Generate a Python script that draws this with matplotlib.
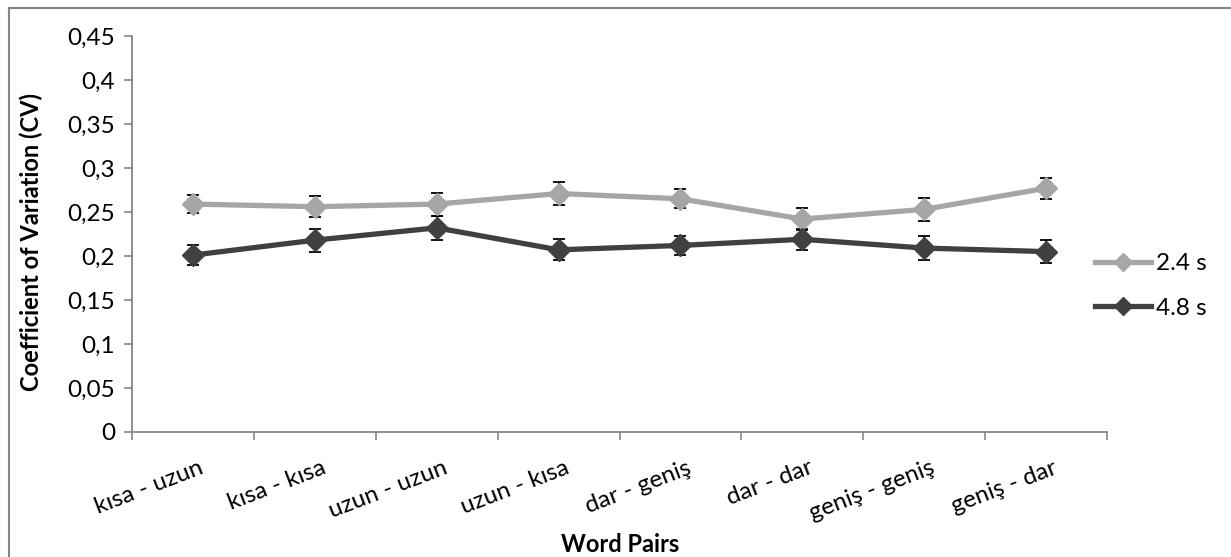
import matplotlib
matplotlib.use("Agg")
import matplotlib.pyplot as plt
from matplotlib.lines import Line2D
import matplotlib.transforms as mtransforms
import numpy as np

plt.rcParams['font.family'] = ['Lato', 'DejaVu Sans']

categories = ["kısa - uzun", "kısa - kısa", "uzun - uzun", "uzun - kısa",
              "dar - geniş", "dar - dar", "geniş - geniş", "geniş - dar"]
cv_24 = [0.259, 0.256, 0.259, 0.271, 0.265, 0.242, 0.253, 0.277]
err_24 = [0.010, 0.012, 0.013, 0.013, 0.011, 0.013, 0.013, 0.012]
cv_48 = [0.201, 0.218, 0.232, 0.207, 0.212, 0.219, 0.209, 0.205]
err_48 = [0.011, 0.013, 0.014, 0.012, 0.011, 0.012, 0.014, 0.013]
series_labels = ["2.4 s", "4.8 s"]
yticks = [0, 0.05, 0.1, 0.15, 0.2, 0.25, 0.3, 0.35, 0.4, 0.45]
ytick_labels = ["0", "0,05", "0,1", "0,15", "0,2", "0,25", "0,3", "0,35", "0,4", "0,45"]

W, H = 1231, 557
fig = plt.figure(figsize=(W / 100, H / 100), dpi=100)
L, R, T, B = 132, 1107, 36, 432
ax = fig.add_axes([L / W, 1 - B / H, (R - L) / W, (B - T) / H])

light = "#A6A6A6"
dark = "#404040"
gray = "#868686"
x = np.arange(len(categories))
FS = 17.5

for vals, errs, col in [(cv_24, err_24, light), (cv_48, err_48, dark)]:
    ax.errorbar(x, vals, yerr=errs, fmt='none', ecolor='black', elinewidth=1.3,
                capsize=4, capthick=1.3, zorder=2)
    ax.plot(x, vals, color=col, lw=3.8, marker='D', markersize=11,
            markerfacecolor=col, markeredgecolor=col, zorder=3)

ax.set_xlim(-0.5, len(categories) - 0.5)
ax.set_ylim(0, 0.45)
ax.set_yticks(yticks)
ax.set_yticklabels(ytick_labels, fontsize=FS, color='black')
ax.set_xticks(x)
ax.set_xticklabels(categories, fontsize=FS, rotation=21, ha='right', va='top',
                   rotation_mode='anchor')
ax.set_xticks(np.arange(-0.5, len(categories)), minor=True)
ax.tick_params(axis='x', which='major', length=0, pad=18)
ax.tick_params(axis='x', which='minor', length=6, color=gray, width=1.2)
ax.tick_params(axis='y', length=6, color=gray, width=1.2, pad=6)

offset = mtransforms.ScaledTranslation(6 / 100, 0, fig.dpi_scale_trans)
for lab in ax.get_xticklabels():
    lab.set_transform(lab.get_transform() + offset)

for s in ['top', 'right']:
    ax.spines[s].set_visible(False)
for s in ['left', 'bottom']:
    ax.spines[s].set_color(gray)
    ax.spines[s].set_linewidth(1.3)

fig.text(31 / W, 1 - 242 / H, "Coefficient of Variation (CV)", rotation=90,
         ha='center', va='center', fontsize=17, fontweight='bold')
fig.text(620 / W, 1 - 544 / H, "Word Pairs", ha='center', va='center',
         fontsize=17, fontweight='bold')

handles = [Line2D([], [], color=light, lw=3.8, marker='D', markersize=9),
           Line2D([], [], color=dark, lw=3.8, marker='D', markersize=9)]
fig.legend(handles, series_labels, loc='center left',
           bbox_to_anchor=(1095 / W, 1 - 286 / H), frameon=False, fontsize=FS,
           handlelength=2.3, handletextpad=0.2, labelspacing=0.95,
           borderpad=0, borderaxespad=0)

# outer chart border (top and left visible)
fig.add_artist(Line2D([9 / W, 1], [1 - 8 / H, 1 - 8 / H], color=gray, lw=1.5,
                      transform=fig.transFigure))
fig.add_artist(Line2D([9 / W, 9 / W], [0, 1 - 8 / H], color=gray, lw=1.5,
                      transform=fig.transFigure))

fig.savefig("out.png", dpi=100, facecolor='white')
